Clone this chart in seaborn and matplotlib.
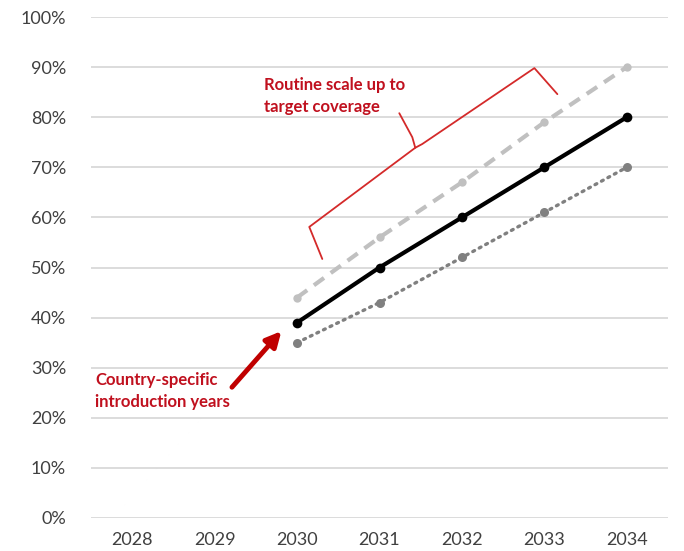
import matplotlib
matplotlib.use("Agg")
import matplotlib.pyplot as plt
import pandas as pd
import seaborn as sns
from matplotlib.ticker import PercentFormatter

# Axis categories and coverage scenarios (percent)
axis_years = [2028, 2029, 2030, 2031, 2032, 2033, 2034]
scenario_years = [2030, 2031, 2032, 2033, 2034]
upper = [44, 56, 67, 79, 90]
central = [39, 50, 60, 70, 80]
lower = [35, 43, 52, 61, 70]

sns.set_style("white")
plt.rcParams["font.family"] = ["Lato", "DejaVu Sans"]

fig = plt.figure(figsize=(6.84, 5.51), dpi=100)
ax = fig.add_axes([91 / 684, 1 - 518 / 551, (668 - 91) / 684, (518 - 17) / 551])

df = pd.DataFrame({"year": scenario_years, "upper": upper,
                   "central": central, "lower": lower})

sns.lineplot(data=df, x="year", y="upper", ax=ax, color="#C0C0C0", lw=3,
             linestyle=(0, (3, 2)), marker="o", markersize=6,
             markeredgewidth=0, zorder=3)
sns.lineplot(data=df, x="year", y="lower", ax=ax, color="#808080", lw=2.4,
             linestyle=(0, (0.6, 1.6)), dash_capstyle="round", marker="o",
             markersize=6.5, markeredgewidth=0, zorder=3)
sns.lineplot(data=df, x="year", y="central", ax=ax, color="black", lw=3,
             marker="o", markersize=7, markeredgewidth=0, zorder=4)

ax.set_xlim(axis_years[0] - 0.5, axis_years[-1] + 0.5)
ax.set_ylim(0, 100)
ax.set_xticks(axis_years)
ax.set_xticklabels([str(y) for y in axis_years])
ax.set_yticks(range(0, 101, 10))
ax.yaxis.set_major_formatter(PercentFormatter(100, decimals=0))
ax.set_xlabel("")
ax.set_ylabel("")
ax.grid(axis="y", color="#D9D9D9", lw=1.3)
ax.set_axisbelow(True)
for s in ax.spines.values():
    s.set_visible(False)
ax.tick_params(axis="both", length=0, labelsize=13, colors="#404040")
ax.tick_params(axis="y", pad=18)
ax.tick_params(axis="x", pad=10)

red = "#C0101E"
# Brace over the scale-up period
ax.plot([2030.306, 2030.148, 2031.434], [51.7, 58.1, 73.9],
        color="#D42A2A", lw=1.3, clip_on=False)
ax.plot([2031.240, 2031.398, 2031.434, 2031.519, 2032.879, 2033.158],
        [80.8, 76.0, 73.9, 74.65, 89.8, 84.6],
        color="#D42A2A", lw=1.3, clip_on=False)
ax.text(2029.60, 88.0, "Routine scale up to\ntarget coverage", color=red,
        fontsize=12, fontweight="bold", va="top", ha="left", linespacing=1.45)

# Arrow pointing at the first introduction year
ax.annotate("", xy=(2029.81, 37.3), xytext=(2029.21, 26.1),
            arrowprops=dict(arrowstyle="-|>,head_length=0.9,head_width=0.45",
                            color="#C00000", lw=3.5, shrinkA=0, shrinkB=0))
ax.text(2027.55, 29.2, "Country-specific\nintroduction years", color=red,
        fontsize=12, fontweight="bold", va="top", ha="left", linespacing=1.45)

fig.savefig("out.png", dpi=100)
